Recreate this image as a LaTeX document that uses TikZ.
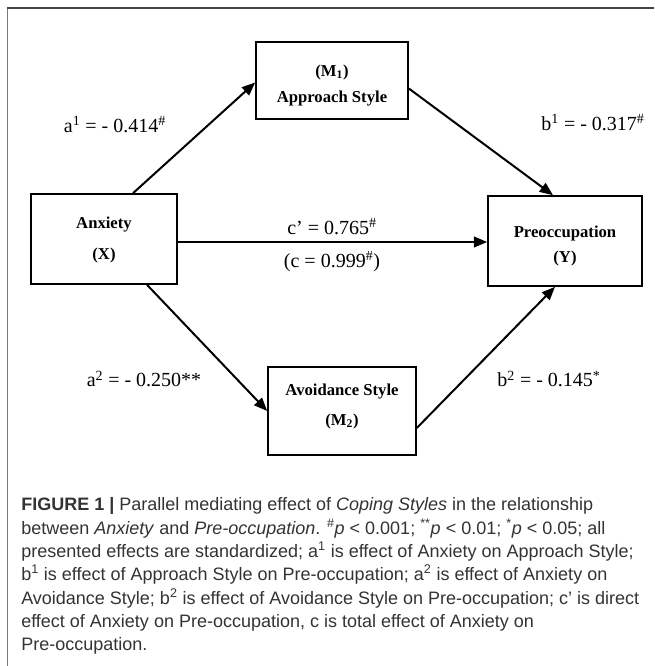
\documentclass[tikz,border=0pt]{standalone}
\usepackage{fontspec}
\setmainfont{Liberation Serif}
\newfontfamily\capfont{Liberation Sans}
\usetikzlibrary{arrows.meta,calc}
\definecolor{capgray}{HTML}{333333}
\definecolor{framegray}{HTML}{7A7A7A}
\definecolor{framedark}{HTML}{444444}
\tikzset{
  varbox/.style={draw=black,line width=1.2pt,minimum width=#1,inner sep=0pt},
  boxtxt/.style={font=\fontsize{12.5}{14}\selectfont\bfseries,inner sep=0pt},
  coef/.style={font=\fontsize{15}{17}\selectfont,inner sep=0pt},
  arr/.style={draw=black,line width=1.5pt,-{Triangle[length=10pt,width=8pt]}},
  capline/.style={font=\capfont\fontsize{13.5}{16}\selectfont,text=capgray,anchor=base west,inner sep=0pt}
}
\begin{document}
\begin{tikzpicture}[x=0.75pt,y=-0.75pt]
\useasboundingbox (0,0) rectangle (654,666);
% frame
\draw[framegray,line width=1.3pt] (7.5,8) -- (7.5,666);
\draw[framedark,line width=1.3pt] (7,8) -- (654,8);
% boxes
\node[varbox=114pt,minimum height=57.75pt] (M1) at (332,80.5) {};
\node[varbox=109.5pt,minimum height=67.5pt] (X) at (104,239) {};
\node[varbox=115.5pt,minimum height=67.5pt] (Y) at (565,241) {};
\node[varbox=111pt,minimum height=66pt] (M2) at (342,411) {};
% box texts
\node[boxtxt] (m1a) at (332,72) {(M\textsubscript{1})};
\node[boxtxt] (m1b) at (332,99) {Approach Style};
\node[boxtxt] (xa) at (104,225) {Anxiety};
\node[boxtxt] (xb) at (104,255) {(X)};
\node[boxtxt] (ya) at (565,233) {Preoccupation};
\node[boxtxt] (yb) at (565,258) {(Y)};
\node[boxtxt] (m2a) at (342,392) {Avoidance Style};
\node[boxtxt] (m2b) at (342,421) {(M\textsubscript{2})};
% connectors
\draw[arr] ($(X.north)+(29,0)$) -- ($(M1.west)+(0,2)$);
\draw[arr] ($(M1.east)+(0,8)$) -- ($(Y.north)+(-12,0)$);
\draw[arr] ($(X.east)+(0,3)$) -- ($(Y.west)+(0,1)$);
\draw[arr] ($(X.south)+(43,0)$) -- (M2.west);
\draw[arr] ($(M2.east)+(0,17)$) -- ($(Y.south)+(-10,0)$);
% coefficients
\node[coef] (la1) at (115,125) {a\textsuperscript{1} = - 0.414\textsuperscript{\#}};
\node[coef] (lb1) at (593,123) {b\textsuperscript{1} = - 0.317\textsuperscript{\#}};
\node[coef] (lc1) at (332,227) {c’ = 0.765\textsuperscript{\#}};
\node[coef] (lc2) at (332,262) {(c = 0.999\textsuperscript{\#})};
\node[coef] (la2) at (144,379) {a\textsuperscript{2} = - 0.250**};
\node[coef] (lb2) at (549,379) {b\textsuperscript{2} = - 0.145\textsuperscript{*}};
% caption
\node[capline] (c1) at (21,510.5) {\textbf{FIGURE 1 |} Parallel mediating effect of \textit{Coping Styles} in the relationship};
\node[capline] (c2) at (21,534) {between \textit{Anxiety} and \textit{Pre-occupation}. \textsuperscript{\#}\textit{p} < 0.001; \textsuperscript{**}\textit{p} < 0.01; \textsuperscript{*}\textit{p} < 0.05; all};
\node[capline] (c3) at (21,557) {presented effects are standardized; a\textsuperscript{1} is effect of Anxiety on Approach Style;};
\node[capline] (c4) at (21,580.5) {b\textsuperscript{1} is effect of Approach Style on Pre-occupation; a\textsuperscript{2} is effect of Anxiety on};
\node[capline] (c5) at (21,604) {Avoidance Style; b\textsuperscript{2} is effect of Avoidance Style on Pre-occupation; c’ is direct};
\node[capline] (c6) at (21,627) {effect of Anxiety on Pre-occupation, c is total effect of Anxiety on};
\node[capline] (c7) at (21,650.5) {Pre-occupation.};
\end{tikzpicture}
\end{document}
